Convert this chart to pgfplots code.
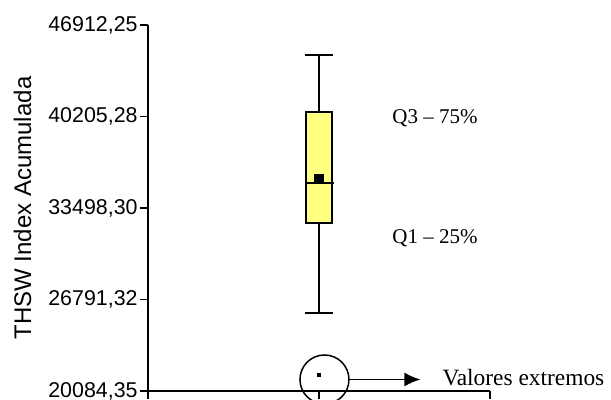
\documentclass[border=0pt]{standalone}
\usepackage{fontspec}
\setmainfont{Liberation Serif}
\setsansfont{Liberation Sans}
\usepackage{pgfplots}
\pgfplotsset{compat=1.18}
\usetikzlibrary{arrows.meta}
\definecolor{boxyellow}{RGB}{255,255,128}
\begin{document}
\begin{tikzpicture}
\begin{axis}[
  scale only axis,
  width=171pt, height=183pt,
  xmin=0, xmax=2,
  ymin=20084.35, ymax=46912.25,
  scaled y ticks=false,
  axis x line*=bottom, axis y line*=left,
  axis line style={black, line width=0.75pt, -},
  tick style={black, line width=0.75pt},
  tick align=outside,
  major tick length=4pt,
  xtick={0,1,2}, xticklabels={},
  ytick={20084.35,26791.32,33498.30,40205.28,46912.25},
  yticklabels={20084{,}35,26791{,}32,33498{,}30,40205{,}28,46912{,}25},
  yticklabel style={font=\sffamily\fontsize{10.7pt}{12pt}\selectfont, inner sep=1pt},
  ylabel={THSW Index Acumulada},
  every axis y label/.style={at={(axis description cs:-0.367,0.5)}, rotate=90, anchor=center,
    font=\sffamily\fontsize{12pt}{14pt}\selectfont},
  clip=false,
]
% whiskers
\addplot[black, line width=0.75pt] coordinates {(1,40535) (1,44713)};
\addplot[black, line width=0.75pt] coordinates {(1,25801) (1,32399)};
\addplot[black, line width=0.75pt] coordinates {(0.918,44713) (1.082,44713)};
\addplot[black, line width=0.75pt] coordinates {(0.918,25801) (1.082,25801)};
% box
\addplot[draw=black, fill=boxyellow, line width=0.75pt] coordinates {(0.924,32399) (1.076,32399) (1.076,40535) (0.924,40535) (0.924,32399)} -- cycle;
% median
\addplot[black, line width=0.75pt] coordinates {(0.924,35331) (1.09,35331)};
% mean
\addplot[only marks, mark=square*, mark size=2.1pt, mark options={fill=black, draw=black}]
  coordinates {(1,35660)};
% extreme value
\addplot[only marks, mark=square*, mark size=0.9pt, mark options={fill=black, draw=black}]
  coordinates {(1,21257)};
\addplot[only marks, mark=o, mark size=12.25pt, mark options={draw=black, line width=0.75pt}]
  coordinates {(1.032,20927)};
\coordinate (bl) at (rel axis cs:0,0);
\draw[line width=0.75pt, -{Latex[length=8pt,width=7pt]}] (axis cs:1.175,20927) -- (axis cs:1.593,20927);
\node[anchor=west, font=\fontsize{11.7pt}{13pt}\selectfont, inner sep=0pt] at (axis cs:1.72,21070) {Valores extremos};
\node[anchor=west, font=\fontsize{10.5pt}{12pt}\selectfont, inner sep=0pt] at (axis cs:1.427,40058) {Q3 -- 75\%};
\node[anchor=west, font=\fontsize{10.5pt}{12pt}\selectfont, inner sep=0pt] at (axis cs:1.427,31262) {Q1 -- 25\%};
\end{axis}
\pgfresetboundingbox
\path[use as bounding box] (bl) ++(-74pt,-4.5pt) rectangle ++(305.5pt,200pt);
\end{tikzpicture}
\end{document}
